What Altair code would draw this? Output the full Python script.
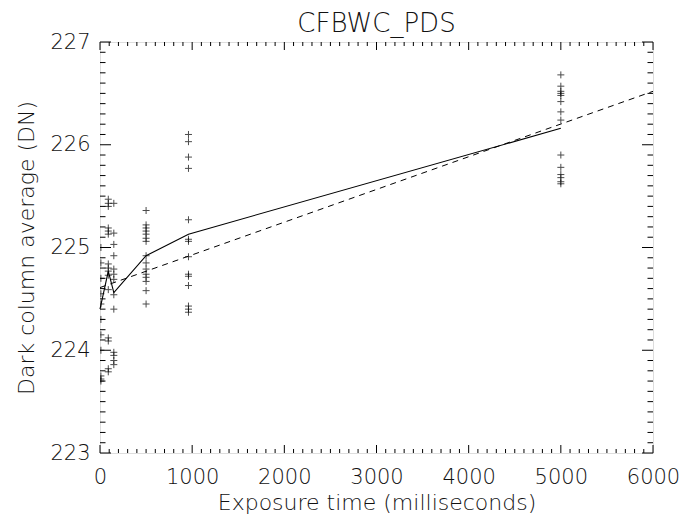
import altair as alt
import pandas as pd

# ---- data ----
exp_times = [10, 90, 150, 500, 960, 5000]
vals_10 = [225.00, 224.85, 224.70, 224.55, 224.45, 224.30, 224.15, 224.00, 223.75, 223.72, 223.70]
vals_90 = [225.47, 225.43, 225.40, 225.19, 225.16, 225.13, 224.84, 224.80, 224.77, 224.73, 224.59,
           224.12, 224.09, 223.82, 223.79]
vals_150 = [225.43, 225.14, 225.03, 224.92, 224.79, 224.74, 224.69, 224.54, 224.40, 223.98, 223.95,
            223.90, 223.86]
vals_500 = [225.36, 225.22, 225.19, 225.16, 225.13, 225.09, 225.06, 224.92, 224.85, 224.79, 224.74,
            224.71, 224.67, 224.58, 224.45]
vals_960 = [226.10, 226.03, 225.88, 225.77, 225.27, 225.08, 225.06, 224.91, 224.74, 224.72, 224.63,
            224.43, 224.40, 224.37]
vals_5000 = [226.68, 226.57, 226.52, 226.50, 226.48, 226.42, 226.32, 226.24, 225.90, 225.78, 225.71,
             225.68, 225.64, 225.62]

mean_x = [0, 90, 150, 500, 960, 5000]
mean_y = [224.40, 224.77, 224.56, 224.92, 225.13, 226.16]

fit_x = [0, 6000]
fit_y = [224.61, 226.52]

x_major = [0, 1000, 2000, 3000, 4000, 5000, 6000]
y_major = [223, 224, 225, 226, 227]
x_minor = [v for v in range(0, 6001, 100) if v % 1000 != 0]
y_minor = [round(223 + i * 0.1, 1) for i in range(41) if i % 10 != 0]

W, H = 553, 411
FONT = "DejaVu Sans"
FW = 200
TXT = "#111111"

groups = [vals_10, vals_90, vals_150, vals_500, vals_960, vals_5000]
pts = pd.DataFrame(
    [{"t": t, "v": v} for t, g in zip(exp_times, groups) for v in g]
)
mean_df = pd.DataFrame({"t": mean_x, "v": mean_y})
fit_df = pd.DataFrame({"t": fit_x, "v": fit_y})

xs = alt.Scale(domain=[0, 6000], nice=False, zero=False)
ys = alt.Scale(domain=[223, 227], nice=False, zero=False)

xax = alt.Axis(values=x_major, format="d", ticks=False, domain=False, grid=False,
               labelFont=FONT, labelFontSize=21, labelFontWeight=FW, labelColor=TXT,
               labelPadding=13, labelFlush=False, labelOverlap=False,
               title="Exposure time (milliseconds)", titleFont=FONT, titleFontSize=22,
               titleFontWeight=FW, titleColor=TXT, titlePadding=5)
yax = alt.Axis(values=y_major, format="d", ticks=False, domain=False, grid=False,
               labelFont=FONT, labelFontSize=21, labelFontWeight=FW, labelColor=TXT,
               labelPadding=10, labelFlush=False, labelOverlap=False,
               title="Dark column average (DN)", titleFont=FONT, titleFontSize=22,
               titleFontWeight=FW, titleColor=TXT, titlePadding=11)

points = alt.Chart(pts).mark_point(
    shape="M-1,0L1,0M0,-1L0,1", size=49, stroke="black", strokeWidth=1, filled=False, clip=True
).encode(
    x=alt.X("t:Q", scale=xs, axis=xax),
    y=alt.Y("v:Q", scale=ys, axis=yax),
)

mean_line = alt.Chart(mean_df).mark_line(color="black", strokeWidth=1.1).encode(
    x=alt.X("t:Q", scale=xs), y=alt.Y("v:Q", scale=ys)
)
fit_line = alt.Chart(fit_df).mark_line(color="black", strokeWidth=1, strokeDash=[6, 5]).encode(
    x=alt.X("t:Q", scale=xs), y=alt.Y("v:Q", scale=ys)
)


def yticks(vals, length):
    df = pd.DataFrame({"v": vals})
    l = alt.Chart(df).mark_rule(color="black", strokeWidth=1).encode(
        x=alt.value(0), x2=alt.value(length), y=alt.Y("v:Q", scale=ys))
    r = alt.Chart(df).mark_rule(color="black", strokeWidth=1).encode(
        x=alt.value(W - length), x2=alt.value(W), y=alt.Y("v:Q", scale=ys))
    return [l, r]


def xticks(vals, length):
    df = pd.DataFrame({"t": vals})
    b = alt.Chart(df).mark_rule(color="black", strokeWidth=1).encode(
        y=alt.value(H), y2=alt.value(H - length), x=alt.X("t:Q", scale=xs))
    t = alt.Chart(df).mark_rule(color="black", strokeWidth=1).encode(
        y=alt.value(0), y2=alt.value(length), x=alt.X("t:Q", scale=xs))
    return [b, t]


layers = [points, mean_line, fit_line]
layers += yticks(y_major, 11) + yticks(y_minor, 5.5)
layers += xticks(x_major, 8) + xticks(x_minor, 4)

chart = alt.layer(*layers).properties(
    width=W, height=H,
    title=alt.TitleParams("CFBWC_PDS", font=FONT, fontSize=26, fontWeight=FW,
                          color=TXT, offset=-6),
    autosize=alt.AutoSizeParams(type="none"),
    padding={"left": 100, "top": 42, "right": 33, "bottom": 70},
).configure_view(stroke="black", strokeWidth=1).configure(background="white")

chart.save("out.html", embed_options={"renderer": "svg", "actions": False})
